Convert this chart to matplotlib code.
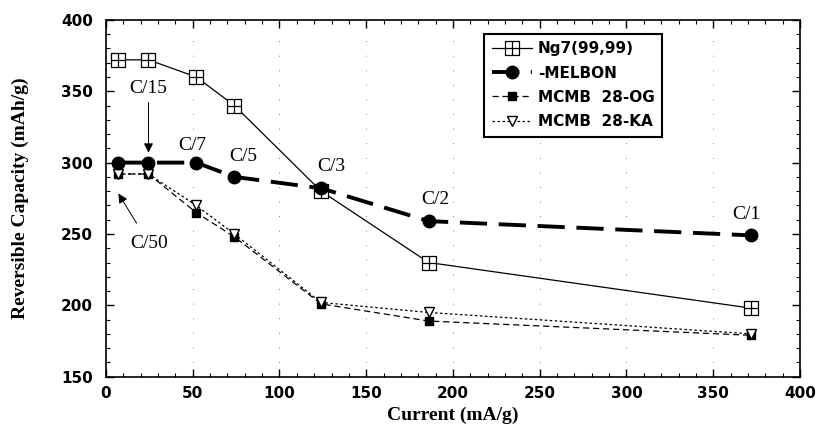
import matplotlib
matplotlib.use("Agg")
import matplotlib.pyplot as plt
from matplotlib.path import Path
from matplotlib.ticker import MultipleLocator

current = [7, 24.5, 52, 74, 124, 186, 372]
ng7 = [372, 372, 360, 340, 280, 230, 198]
melbon = [300, 300, 300, 290, 282, 259, 249]
mcmb_og = [292, 292, 265, 248, 201, 189, 179]
mcmb_ka = [292, 292, 270, 250, 202, 195, 180]
labels = ["Ng7(99,99)", "-MELBON", "MCMB  28-OG", "MCMB  28-KA"]

verts = [(-1, -1), (1, -1), (1, 1), (-1, 1), (-1, -1),
         (0, -1), (0, 1), (-1, 0), (1, 0)]
codes = [Path.MOVETO, Path.LINETO, Path.LINETO, Path.LINETO, Path.CLOSEPOLY,
         Path.MOVETO, Path.LINETO, Path.MOVETO, Path.LINETO]
boxplus = Path(verts, codes)

fig = plt.figure(figsize=(8.19, 4.32), dpi=100)
ax = fig.add_axes([0.1294, 0.128, 0.8474, 0.826])

ax.plot(current, ng7, color='black', lw=0.9, marker=boxplus, ms=9.5,
        mfc='white', mec='black', mew=0.9, label=labels[0], zorder=3)
ax.plot(current, melbon, color='black', lw=2.8, dashes=(7, 3), marker='o', ms=9,
        mfc='black', mec='black', label=labels[1], zorder=4)
ax.plot(current, mcmb_og, color='black', lw=0.9, dashes=(5, 3), marker='s', ms=6,
        mfc='black', mec='black', label=labels[2], zorder=3)
ax.plot(current, mcmb_ka, color='black', lw=0.9, dashes=(2, 2), marker='v', ms=7,
        mfc='white', mec='black', label=labels[3], zorder=3)

ax.set_xlim(0, 400)
ax.set_ylim(150, 400)
ax.xaxis.set_major_locator(MultipleLocator(50))
ax.xaxis.set_minor_locator(MultipleLocator(10))
ax.yaxis.set_major_locator(MultipleLocator(50))
ax.yaxis.set_minor_locator(MultipleLocator(10))
ax.tick_params(which='both', direction='in', top=True, right=True)
ax.tick_params(which='major', length=6, width=1)
ax.tick_params(which='minor', length=3, width=0.8)
ax.tick_params(axis='y', pad=9.5)
ax.tick_params(axis='x', pad=7)
for lab in ax.get_xticklabels() + ax.get_yticklabels():
    lab.set_fontfamily('DejaVu Sans')
    lab.set_fontweight('bold')
    lab.set_fontsize(11)
for s in ax.spines.values():
    s.set_linewidth(1.2)
ax.grid(True, which='major', axis='x', linestyle=(0, (1, 14)), color='gray', lw=0.7)

ax.set_xlabel('Current (mA/g)', fontfamily='Liberation Serif', fontweight='bold', fontsize=14)
ax.set_ylabel('Reversible Capacity (mAh/g)', fontfamily='Liberation Serif', fontweight='bold', fontsize=14)
ax.xaxis.set_label_coords(0.5, -0.085)
ax.yaxis.set_label_coords(-0.111, 0.5)

leg = ax.legend(loc='upper left', bbox_to_anchor=(0.545, 0.961), borderaxespad=0,
                frameon=True, fancybox=False, edgecolor='black', handlelength=2.6,
                prop={'family': 'DejaVu Sans', 'weight': 'bold', 'size': 11},
                borderpad=0.5, labelspacing=0.6, handletextpad=0.4)
leg.get_frame().set_linewidth(1.5)
leg.get_frame().set_alpha(1)

tfont = dict(fontfamily='Liberation Serif', fontsize=14)
ax.annotate('C/15', xy=(24.5, 305), xytext=(24.5, 352), ha='center', va='center',
            arrowprops=dict(arrowstyle='-|>', color='black', lw=0.7), **tfont)
ax.annotate('C/50', xy=(6.3, 280), xytext=(25, 243), ha='center', va='center',
            arrowprops=dict(arrowstyle='-|>', color='black', lw=0.7, shrinkA=8), **tfont)
ax.text(50, 312, 'C/7', ha='center', va='center', **tfont)
ax.text(79, 304, 'C/5', ha='center', va='center', **tfont)
ax.text(130, 297, 'C/3', ha='center', va='center', **tfont)
ax.text(190, 274, 'C/2', ha='center', va='center', **tfont)
ax.text(369, 263.5, 'C/1', ha='center', va='center', **tfont)

fig.savefig('out.png', dpi=100)
